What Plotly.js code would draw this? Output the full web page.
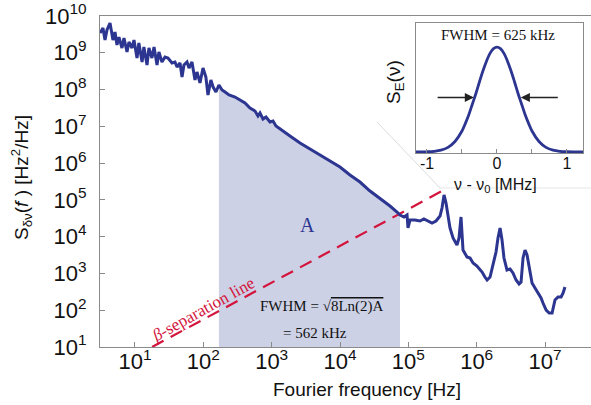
<!DOCTYPE html>
<html>
<head>
<meta charset="utf-8">
<script src="https://cdn.plot.ly/plotly-3.0.1.min.js"></script>
<style>html,body{margin:0;padding:0;background:#fff;}#chart{width:591px;height:405px;}</style>
</head>
<body>
<div id="chart"></div>
<script>
// Frequency noise PSD
const freq = [3.08, 3.40, 3.64, 3.89, 4.31, 4.76, 5.10, 5.45, 5.83, 6.45, 6.90, 7.64, 8.17, 9.04, 9.67, 10.7, 11.4, 12.7, 13.5, 15.0,
  16.0, 17.7, 19.0, 21.0, 22.4, 24.8, 27.5, 30.4, 34.8, 38.5, 41.2, 45.6, 48.8, 52.1, 57.7, 61.7, 68.2, 75.5, 80.8, 89.3,
  98.9, 109, 117, 129, 139, 153, 169, 188, 208, 238,
  291, 344, 407, 482, 570, 631, 675, 747, 826, 946, 1047, 1157, 1324, 1855, 2600, 3640, 5090, 7140, 10000, 14000,
  19600, 27500, 38500, 53900, 68300,
  75500, 86500, 95700, 98900, 1.06e5, 1.25e5, 1.48e5, 1.69e5, 1.94e5, 2.22e5, 2.54e5, 2.91e5, 3.11e5, 3.33e5, 3.56e5,
  3.81e5, 4.07e5, 4.51e5, 5.15e5, 5.52e5, 5.90e5, 6.31e5, 7.22e5, 8.00e5, 8.85e5, 1.01e6, 1.20e6, 1.32e6, 1.42e6, 1.57e6,
  1.73e6, 1.92e6, 2.05e6, 2.20e6, 2.35e6, 2.51e6, 2.78e6, 3.08e6, 3.40e6, 3.77e6, 4.17e6, 4.46e6, 4.77e6, 5.10e6, 5.46e6,
  5.83e6, 6.46e6, 7.14e6, 7.91e6, 8.75e6, 9.35e6, 1.04e7, 1.15e7, 1.27e7, 1.40e7, 1.55e7, 1.72e7, 1.84e7, 1.96e7];
const psd = [3.44e9, 4.71e9, 2.22e9, 4.16e9, 6.44e9, 2.22e9, 3.67e9, 1.63e9, 2.68e9, 1.35e9, 2.52e9, 1.05e9, 1.96e9, 1.35e9, 2.22e9, 7.21e8, 1.84e9, 5.61e8, 1.44e9, 4.65e8,
  1.35e9, 7.21e8, 1.44e9, 4.65e8, 1.05e9, 5.61e8, 7.67e8, 7.21e8, 5.27e8, 5.61e8, 4.10e8, 5.27e8, 2.19e8, 4.65e8, 5.61e8, 3.85e8, 5.61e8, 1.82e8, 3.00e8, 1.51e8,
  3.85e8, 2.19e8, 7.11e7, 1.82e8, 1.17e8, 8.57e7, 1.33e8, 9.72e7, 8.57e7, 7.11e7,
  6.27e7, 5.20e7, 4.31e7, 3.15e7, 2.61e7, 1.91e7, 2.30e7, 1.58e7, 1.79e7, 1.31e7, 1.40e7, 1.02e7, 8.45e6, 5.46e6, 3.52e6, 2.42e6, 1.66e6, 1.14e6, 7.83e5, 4.74e5,
  3.06e5, 1.74e5, 1.12e5, 6.82e4, 4.68e4,
  3.88e4, 3.43e4, 3.88e4, 1.72e4, 2.84e4, 2.84e4, 2.67e4, 3.02e4, 2.67e4, 2.35e4, 2.67e4, 3.65e4, 6.01e4, 1.36e5, 8.22e4,
  3.88e4, 1.72e4, 9.20e3, 5.93e3, 9.20e3, 3.43e4, 4.34e3, 2.80e3, 2.63e3, 1.92e3, 1.59e3, 1.09e3, 800, 664, 800,
  1.59e3, 3.83e3, 9.20e3, 1.72e4, 8.11e3, 2.63e3, 1.24e3, 1.32e3, 1.03e3, 664, 516, 585, 2.63e3, 4.34e3, 3.17e3,
  1.70e3, 550, 402, 294, 215, 157, 101, 84, 84, 190, 229, 229, 294, 428];

// Shaded integration region A
const shadeStart = 169;
const shadeEnd = 75500;
const psdFloor = 10;

// beta-separation line end points
const betaFreq = [17.8, 3.4e5];
const betaPsd = [10, 1.91e5];

// Inset: lineshape
const insetNu = [-1.16, -1.0, -0.9, -0.8, -0.7, -0.6, -0.5, -0.45, -0.4, -0.35, -0.3, -0.25, -0.2, -0.15, -0.1, -0.05, 0,
  0.05, 0.1, 0.15, 0.2, 0.25, 0.3, 0.35, 0.4, 0.45, 0.5, 0.6, 0.7, 0.8, 0.9, 1.0, 1.23];
const insetS = [0, 0.002, 0.006, 0.017, 0.044, 0.10, 0.20, 0.275, 0.36, 0.46, 0.56, 0.67, 0.775, 0.866, 0.94, 0.985, 1,
  0.985, 0.94, 0.866, 0.775, 0.67, 0.56, 0.46, 0.36, 0.275, 0.20, 0.10, 0.044, 0.017, 0.006, 0.002, 0];

const xTickVals = [10, 100, 1e3, 1e4, 1e5, 1e6, 1e7];
const xTickText = ['10<sup>1</sup>', '10<sup>2</sup>', '10<sup>3</sup>', '10<sup>4</sup>', '10<sup>5</sup>', '10<sup>6</sup>', '10<sup>7</sup>'];
const yTickVals = [10, 100, 1e3, 1e4, 1e5, 1e6, 1e7, 1e8, 1e9, 1e10];
const yTickText = ['10<sup>1</sup>', '10<sup>2</sup>', '10<sup>3</sup>', '10<sup>4</sup>', '10<sup>5</sup>', '10<sup>6</sup>', '10<sup>7</sup>', '10<sup>8</sup>', '10<sup>9</sup>', '10<sup>10</sup>'];
const insetTickVals = [-1, -0.5, 0, 0.5, 1];
const insetTickText = ['-1', '', '0', '', '1'];

const navy = '#2c3590';
const crimson = '#d3153d';
const gray = '#8a8a8a';
const sans = 'Liberation Sans, Arial, sans-serif';
const serif = 'Liberation Serif, Times New Roman, serif';

// build shaded polygon from data
const shX = [], shY = [];
for (let i = 0; i < freq.length; i++) {
  if (freq[i] >= shadeStart && freq[i] <= shadeEnd) { shX.push(freq[i]); shY.push(psd[i]); }
}
shX.push(shadeEnd, shadeStart); shY.push(psdFloor, psdFloor);

const traces = [
  {x: shX, y: shY, type: 'scatter', mode: 'lines', fill: 'toself', fillcolor: '#cdd1e6', line: {width: 0}, hoverinfo: 'skip', xaxis: 'x', yaxis: 'y'},
  {x: betaFreq, y: betaPsd, type: 'scatter', mode: 'lines', line: {color: crimson, width: 2.2, dash: '13px,8px'}, xaxis: 'x', yaxis: 'y'},
  {x: freq, y: psd, type: 'scatter', mode: 'lines', line: {color: navy, width: 3}, xaxis: 'x', yaxis: 'y'},
  {x: insetNu, y: insetS, type: 'scatter', mode: 'lines', line: {color: navy, width: 2.8, shape: 'spline'}, xaxis: 'x2', yaxis: 'y2'}
];

function ann(o) { return Object.assign({xref: 'paper', yref: 'paper', xanchor: 'center', yanchor: 'middle', showarrow: false}, o); }

const layout = {
  width: 591, height: 405,
  margin: {l: 100, r: 0, t: 16, b: 58, pad: 0},
  paper_bgcolor: 'white', plot_bgcolor: 'white',
  showlegend: false,
  font: {family: sans, color: '#111'},
  xaxis: {type: 'log', range: [0.488, 7.673], showline: true, linecolor: gray, linewidth: 1, mirror: true,
    ticks: 'inside', ticklen: 5, tickcolor: gray, tickvals: xTickVals, ticktext: xTickText,
    showgrid: false, zeroline: false, tickfont: {size: 22, color: '#111'}, ticklabelstandoff: -5},
  yaxis: {type: 'log', range: [1, 10], showline: true, linecolor: gray, linewidth: 1,
    ticks: 'inside', ticklen: 5, tickcolor: gray, tickvals: yTickVals, ticktext: yTickText,
    showgrid: false, zeroline: false, tickfont: {size: 22, color: '#111'}, ticklabelstandoff: 8},
  xaxis2: {domain: [0.6436, 0.9837], anchor: 'y2', range: [-1.157, 1.229], showline: true, mirror: true,
    linecolor: gray, linewidth: 1, ticks: 'inside', ticklen: 4, tickcolor: gray,
    tickvals: insetTickVals, ticktext: insetTickText, tickfont: {size: 16, color: '#111'},
    showgrid: false, zeroline: false, ticklabelstandoff: -4},
  yaxis2: {domain: [0.586, 0.9789], anchor: 'x2', range: [-0.01, 1.23], showline: true, mirror: true,
    linecolor: gray, linewidth: 1, showticklabels: false, ticks: '', showgrid: false, zeroline: false},
  shapes: [
    {type: 'line', xref: 'paper', yref: 'paper', x0: 0.5642, y0: 0.6798, x1: 0.6925, y1: 0.4804, line: {color: '#dcdcdc', width: 1}, layer: 'below'},
    {type: 'line', xref: 'paper', yref: 'paper', x0: 0.6925, y0: 0.4804, x1: 1, y1: 0.4804, line: {color: '#e6e6e6', width: 1}, layer: 'below'}
  ],
  annotations: [
    ann({x: -0.1589, y: 0.5136, textangle: -90,
      text: 'S<sub>δν</sub>(<i>f</i> ) [Hz<sup>2</sup>/Hz]', font: {family: sans, size: 19, color: '#111'}}),
    ann({x: 0.5438, y: -0.1299,
      text: 'Fourier frequency [Hz]', font: {family: sans, size: 19, color: '#111'}}),
    ann({x: 0.4216, y: 0.3686,
      text: 'A', font: {family: serif, size: 20, color: navy}}),
    ann({x: 0.452, y: 0.121,
      text: 'FWHM = √<span style="text-decoration:overline">8Ln(2)A</span>', font: {family: serif, size: 15, color: '#111'}}),
    ann({x: 0.438, y: 0.0423,
      text: '= 562 kHz', font: {family: serif, size: 15, color: '#111'}}),
    ann({x: 0.2098, y: 0.1118, textangle: -29,
      text: '<i>β</i>-separation line', font: {family: serif, size: 17, color: crimson}}),
    ann({x: 0.8106, y: 0.9426,
      text: 'FWHM = 625 kHz', font: {family: serif, size: 15, color: '#111'}}),
    ann({x: 0.6008, y: 0.8006, textangle: -90,
      text: 'S<sub>E</sub>(ν)', font: {family: sans, size: 19, color: '#111'}}),
    ann({x: 0.8045, y: 0.4894,
      text: 'ν - ν<sub>0</sub> [MHz]', font: {family: sans, size: 16, color: '#111'}}),
    {xref: 'x2', yref: 'y2', x: -0.33, y: 0.52, axref: 'x2', ayref: 'y2', ax: -0.87, ay: 0.52,
      showarrow: true, arrowhead: 2, arrowsize: 1.3, arrowwidth: 1.4, arrowcolor: '#222', text: ''},
    {xref: 'x2', yref: 'y2', x: 0.34, y: 0.52, axref: 'x2', ayref: 'y2', ax: 0.89, ay: 0.52,
      showarrow: true, arrowhead: 2, arrowsize: 1.3, arrowwidth: 1.4, arrowcolor: '#222', text: ''}
  ]
};

Plotly.newPlot('chart', traces, layout, {displayModeBar: false, staticPlot: true});
</script>
</body>
</html>
